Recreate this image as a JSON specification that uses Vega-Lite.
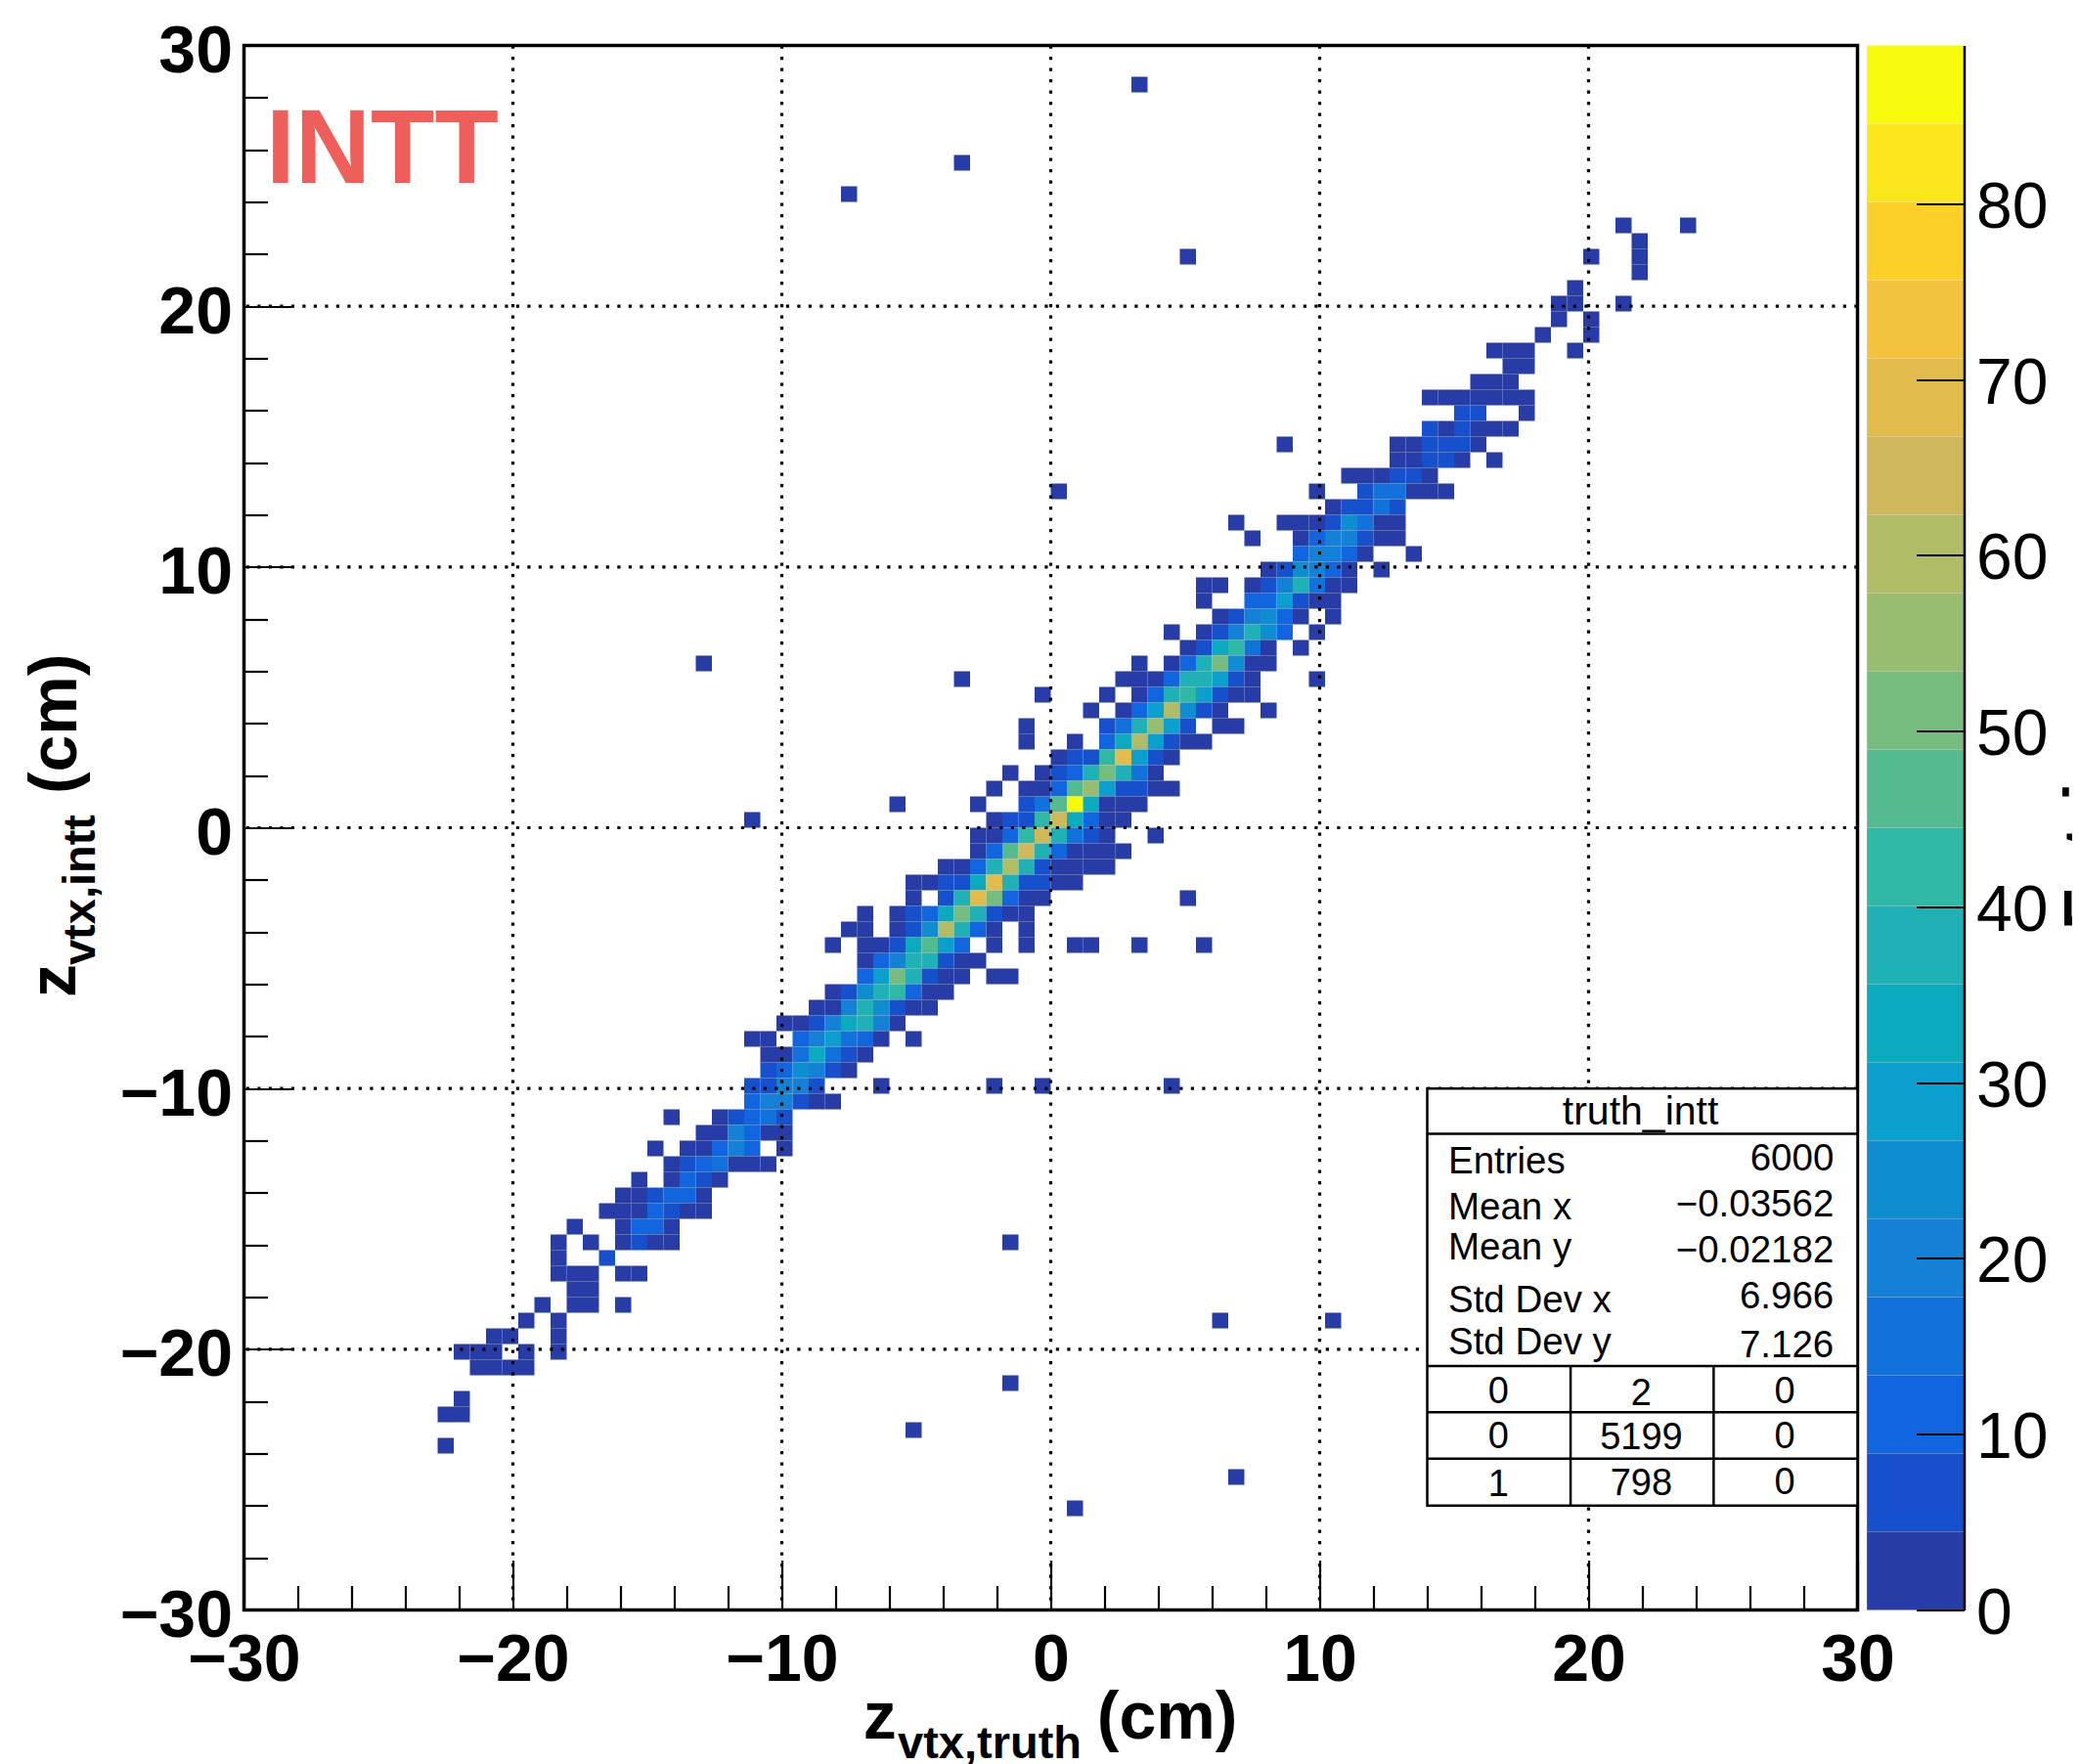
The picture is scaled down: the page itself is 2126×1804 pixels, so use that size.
{"$schema":"https://vega.github.io/schema/vega-lite/v6.json","width":1650,"height":1600,"autosize":{"type":"none"},"padding":{"left":249.5,"top":46.5,"right":226.5,"bottom":157.5},"background":"white","config":{"view":{"stroke":"black","strokeWidth":3.5},"text":{"font":"Liberation Sans"},"style":{"st":{"font":"Liberation Sans","fontSize":38.5,"align":"left","baseline":"alphabetic","fill":"black"},"sr":{"font":"Liberation Sans","fontSize":38.5,"align":"right","baseline":"alphabetic","fill":"black"},"sc":{"font":"Liberation Sans","fontSize":38,"align":"center","baseline":"alphabetic","fill":"black"},"tb":{"font":"Liberation Sans","fontWeight":"bold","fontSize":68,"align":"left","baseline":"alphabetic","fill":"black"},"ts":{"font":"Liberation Sans","fontWeight":"bold","fontSize":47,"align":"left","baseline":"alphabetic","fill":"black"},"br":{"color":"black","strokeWidth":2.5}}},"resolve":{"scale":{"y":"independent"}},"layer":[{"layer":[
{"data":{"values":[
{"x":3.3,"y":28.5,"n":2},{"x":-3.3,"y":25.5,"n":2},{"x":-7.5,"y":24.3,"n":2},{"x":21.3,"y":23.1,"n":2},{"x":23.7,"y":23.1,"n":2},{"x":21.9,"y":22.5,"n":2},{"x":5.1,"y":21.9,"n":2},{"x":20.1,"y":21.9,"n":2},{"x":21.9,"y":21.9,"n":2},{"x":21.9,"y":21.3,"n":2},{"x":19.5,"y":20.7,"n":2},{"x":18.9,"y":20.1,"n":2},{"x":19.5,"y":20.1,"n":2},{"x":21.3,"y":20.1,"n":2},{"x":18.9,"y":19.5,"n":2},{"x":20.1,"y":19.5,"n":2},{"x":18.3,"y":18.9,"n":2},{"x":20.1,"y":18.9,"n":2},{"x":16.5,"y":18.3,"n":2},{"x":17.1,"y":18.3,"n":2},{"x":17.7,"y":18.3,"n":2},{"x":19.5,"y":18.3,"n":2},{"x":17.1,"y":17.7,"n":2},{"x":17.7,"y":17.7,"n":2},{"x":15.9,"y":17.1,"n":2},{"x":16.5,"y":17.1,"n":2},{"x":17.1,"y":17.1,"n":2},
{"x":14.1,"y":16.5,"n":2},{"x":14.7,"y":16.5,"n":2},{"x":15.3,"y":16.5,"n":2},{"x":15.9,"y":16.5,"n":2},{"x":16.5,"y":16.5,"n":2},{"x":17.1,"y":16.5,"n":2},{"x":17.7,"y":16.5,"n":2},{"x":15.3,"y":15.9,"n":6},{"x":15.9,"y":15.9,"n":6},{"x":17.7,"y":15.9,"n":2},{"x":14.1,"y":15.3,"n":6},{"x":14.7,"y":15.3,"n":2},{"x":15.3,"y":15.3,"n":6},{"x":15.9,"y":15.3,"n":2},{"x":16.5,"y":15.3,"n":2},{"x":17.1,"y":15.3,"n":2},
{"x":8.7,"y":14.7,"n":2},{"x":12.9,"y":14.7,"n":2},{"x":13.5,"y":14.7,"n":2},{"x":14.1,"y":14.7,"n":6},{"x":14.7,"y":14.7,"n":6},{"x":15.3,"y":14.7,"n":6},{"x":15.9,"y":14.7,"n":2},{"x":12.9,"y":14.1,"n":2},{"x":13.5,"y":14.1,"n":2},{"x":14.1,"y":14.1,"n":6},{"x":14.7,"y":14.1,"n":6},{"x":15.3,"y":14.1,"n":2},{"x":16.5,"y":14.1,"n":2},
{"x":11.1,"y":13.5,"n":2},{"x":11.7,"y":13.5,"n":2},{"x":12.3,"y":13.5,"n":2},{"x":12.9,"y":13.5,"n":6},{"x":13.5,"y":13.5,"n":6},{"x":14.1,"y":13.5,"n":2},{"x":0.3,"y":12.9,"n":2},{"x":9.9,"y":12.9,"n":2},{"x":11.7,"y":12.9,"n":6},{"x":12.3,"y":12.9,"n":15},{"x":12.9,"y":12.9,"n":15},{"x":13.5,"y":12.9,"n":2},{"x":14.1,"y":12.9,"n":2},{"x":14.7,"y":12.9,"n":2},
{"x":10.5,"y":12.3,"n":2},{"x":11.1,"y":12.3,"n":6},{"x":11.7,"y":12.3,"n":6},{"x":12.3,"y":12.3,"n":15},{"x":12.9,"y":12.3,"n":6},{"x":6.9,"y":11.7,"n":2},{"x":8.7,"y":11.7,"n":2},{"x":9.3,"y":11.7,"n":2},{"x":9.9,"y":11.7,"n":2},{"x":10.5,"y":11.7,"n":6},{"x":11.1,"y":11.7,"n":24},{"x":11.7,"y":11.7,"n":15},{"x":12.3,"y":11.7,"n":2},{"x":12.9,"y":11.7,"n":2},
{"x":7.5,"y":11.1,"n":2},{"x":9.3,"y":11.1,"n":2},{"x":9.9,"y":11.1,"n":11},{"x":10.5,"y":11.1,"n":20},{"x":11.1,"y":11.1,"n":20},{"x":11.7,"y":11.1,"n":6},{"x":12.3,"y":11.1,"n":2},{"x":12.9,"y":11.1,"n":2},{"x":9.3,"y":10.5,"n":11},{"x":9.9,"y":10.5,"n":20},{"x":10.5,"y":10.5,"n":20},{"x":11.1,"y":10.5,"n":11},{"x":11.7,"y":10.5,"n":2},{"x":13.5,"y":10.5,"n":2},
{"x":8.1,"y":9.9,"n":2},{"x":8.7,"y":9.9,"n":6},{"x":9.3,"y":9.9,"n":24},{"x":9.9,"y":9.9,"n":20},{"x":10.5,"y":9.9,"n":11},{"x":11.1,"y":9.9,"n":2},{"x":12.3,"y":9.9,"n":2},{"x":5.7,"y":9.3,"n":2},{"x":6.3,"y":9.3,"n":2},{"x":7.5,"y":9.3,"n":2},{"x":8.1,"y":9.3,"n":6},{"x":8.7,"y":9.3,"n":20},{"x":9.3,"y":9.3,"n":38},{"x":9.9,"y":9.3,"n":15},{"x":10.5,"y":9.3,"n":2},{"x":11.1,"y":9.3,"n":2},
{"x":5.7,"y":8.7,"n":2},{"x":7.5,"y":8.7,"n":11},{"x":8.1,"y":8.7,"n":11},{"x":8.7,"y":8.7,"n":29},{"x":9.3,"y":8.7,"n":6},{"x":9.9,"y":8.7,"n":2},{"x":10.5,"y":8.7,"n":2},{"x":6.3,"y":8.1,"n":2},{"x":6.9,"y":8.1,"n":6},{"x":7.5,"y":8.1,"n":20},{"x":8.1,"y":8.1,"n":24},{"x":8.7,"y":8.1,"n":11},{"x":9.3,"y":8.1,"n":2},{"x":10.5,"y":8.1,"n":2},
{"x":4.5,"y":7.5,"n":2},{"x":5.7,"y":7.5,"n":2},{"x":6.3,"y":7.5,"n":6},{"x":6.9,"y":7.5,"n":20},{"x":7.5,"y":7.5,"n":38},{"x":8.1,"y":7.5,"n":24},{"x":8.7,"y":7.5,"n":11},{"x":9.9,"y":7.5,"n":2},{"x":5.1,"y":6.9,"n":2},{"x":5.7,"y":6.9,"n":6},{"x":6.3,"y":6.9,"n":33},{"x":6.9,"y":6.9,"n":42},{"x":7.5,"y":6.9,"n":15},{"x":8.1,"y":6.9,"n":2},{"x":9.3,"y":6.9,"n":2},
{"x":-12.9,"y":6.3,"n":2},{"x":3.3,"y":6.3,"n":2},{"x":4.5,"y":6.3,"n":2},{"x":5.1,"y":6.3,"n":11},{"x":5.7,"y":6.3,"n":38},{"x":6.3,"y":6.3,"n":51},{"x":6.9,"y":6.3,"n":24},{"x":7.5,"y":6.3,"n":2},{"x":8.1,"y":6.3,"n":2},{"x":-3.3,"y":5.7,"n":2},{"x":2.7,"y":5.7,"n":2},{"x":3.3,"y":5.7,"n":2},{"x":3.9,"y":5.7,"n":2},{"x":4.5,"y":5.7,"n":11},{"x":5.1,"y":5.7,"n":38},{"x":5.7,"y":5.7,"n":38},{"x":6.3,"y":5.7,"n":29},{"x":6.9,"y":5.7,"n":6},{"x":7.5,"y":5.7,"n":2},{"x":9.9,"y":5.7,"n":2},
{"x":-0.3,"y":5.1,"n":2},{"x":2.1,"y":5.1,"n":2},{"x":3.3,"y":5.1,"n":2},{"x":3.9,"y":5.1,"n":11},{"x":4.5,"y":5.1,"n":38},{"x":5.1,"y":5.1,"n":42},{"x":5.7,"y":5.1,"n":29},{"x":6.3,"y":5.1,"n":6},{"x":6.9,"y":5.1,"n":2},{"x":7.5,"y":5.1,"n":2},{"x":1.5,"y":4.5,"n":2},{"x":2.7,"y":4.5,"n":2},{"x":3.3,"y":4.5,"n":11},{"x":3.9,"y":4.5,"n":29},{"x":4.5,"y":4.5,"n":60},{"x":5.1,"y":4.5,"n":24},{"x":5.7,"y":4.5,"n":6},{"x":6.3,"y":4.5,"n":2},{"x":8.1,"y":4.5,"n":2},
{"x":-0.9,"y":3.9,"n":2},{"x":2.1,"y":3.9,"n":6},{"x":2.7,"y":3.9,"n":15},{"x":3.3,"y":3.9,"n":38},{"x":3.9,"y":3.9,"n":55},{"x":4.5,"y":3.9,"n":29},{"x":5.1,"y":3.9,"n":6},{"x":6.3,"y":3.9,"n":2},{"x":6.9,"y":3.9,"n":2},{"x":-0.9,"y":3.3,"n":2},{"x":0.9,"y":3.3,"n":2},{"x":2.1,"y":3.3,"n":11},{"x":2.7,"y":3.3,"n":33},{"x":3.3,"y":3.3,"n":60},{"x":3.9,"y":3.3,"n":29},{"x":4.5,"y":3.3,"n":6},{"x":5.1,"y":3.3,"n":2},{"x":5.7,"y":3.3,"n":2},
{"x":0.3,"y":2.7,"n":2},{"x":0.9,"y":2.7,"n":6},{"x":1.5,"y":2.7,"n":6},{"x":2.1,"y":2.7,"n":42},{"x":2.7,"y":2.7,"n":69},{"x":3.3,"y":2.7,"n":29},{"x":3.9,"y":2.7,"n":6},{"x":4.5,"y":2.7,"n":2},{"x":-1.5,"y":2.1,"n":2},{"x":-0.3,"y":2.1,"n":2},{"x":0.3,"y":2.1,"n":6},{"x":0.9,"y":2.1,"n":11},{"x":1.5,"y":2.1,"n":38},{"x":2.1,"y":2.1,"n":51},{"x":2.7,"y":2.1,"n":38},{"x":3.3,"y":2.1,"n":15},{"x":3.9,"y":2.1,"n":2},
{"x":-2.1,"y":1.5,"n":2},{"x":-0.9,"y":1.5,"n":2},{"x":-0.3,"y":1.5,"n":2},{"x":0.3,"y":1.5,"n":11},{"x":0.9,"y":1.5,"n":47},{"x":1.5,"y":1.5,"n":55},{"x":2.1,"y":1.5,"n":29},{"x":2.7,"y":1.5,"n":6},{"x":3.3,"y":1.5,"n":6},{"x":3.9,"y":1.5,"n":2},{"x":4.5,"y":1.5,"n":2},{"x":-5.7,"y":0.9,"n":2},{"x":-2.7,"y":0.9,"n":2},{"x":-0.9,"y":0.9,"n":6},{"x":-0.3,"y":0.9,"n":15},{"x":0.3,"y":0.9,"n":47},{"x":0.9,"y":0.9,"n":89},{"x":1.5,"y":0.9,"n":33},{"x":2.1,"y":0.9,"n":2},{"x":2.7,"y":0.9,"n":2},{"x":3.3,"y":0.9,"n":2},
{"x":-11.1,"y":0.3,"n":2},{"x":-2.1,"y":0.3,"n":2},{"x":-1.5,"y":0.3,"n":6},{"x":-0.9,"y":0.3,"n":6},{"x":-0.3,"y":0.3,"n":42},{"x":0.3,"y":0.3,"n":65},{"x":0.9,"y":0.3,"n":33},{"x":1.5,"y":0.3,"n":11},{"x":2.1,"y":0.3,"n":2},{"x":2.7,"y":0.3,"n":2},{"x":-2.7,"y":-0.3,"n":2},{"x":-2.1,"y":-0.3,"n":2},{"x":-1.5,"y":-0.3,"n":11},{"x":-0.9,"y":-0.3,"n":42},{"x":-0.3,"y":-0.3,"n":65},{"x":0.3,"y":-0.3,"n":38},{"x":0.9,"y":-0.3,"n":15},{"x":1.5,"y":-0.3,"n":6},{"x":2.1,"y":-0.3,"n":2},{"x":3.9,"y":-0.3,"n":2},
{"x":-2.7,"y":-0.9,"n":2},{"x":-2.1,"y":-0.9,"n":11},{"x":-1.5,"y":-0.9,"n":47},{"x":-0.9,"y":-0.9,"n":65},{"x":-0.3,"y":-0.9,"n":38},{"x":0.3,"y":-0.9,"n":11},{"x":0.9,"y":-0.9,"n":2},{"x":1.5,"y":-0.9,"n":2},{"x":2.1,"y":-0.9,"n":2},{"x":2.7,"y":-0.9,"n":2},{"x":-3.9,"y":-1.5,"n":2},{"x":-3.3,"y":-1.5,"n":2},{"x":-2.7,"y":-1.5,"n":11},{"x":-2.1,"y":-1.5,"n":38},{"x":-1.5,"y":-1.5,"n":60},{"x":-0.9,"y":-1.5,"n":38},{"x":-0.3,"y":-1.5,"n":6},{"x":0.3,"y":-1.5,"n":2},{"x":0.9,"y":-1.5,"n":2},{"x":1.5,"y":-1.5,"n":2},{"x":2.1,"y":-1.5,"n":2},
{"x":-5.1,"y":-2.1,"n":2},{"x":-4.5,"y":-2.1,"n":2},{"x":-3.9,"y":-2.1,"n":6},{"x":-3.3,"y":-2.1,"n":6},{"x":-2.7,"y":-2.1,"n":33},{"x":-2.1,"y":-2.1,"n":69},{"x":-1.5,"y":-2.1,"n":38},{"x":-0.9,"y":-2.1,"n":6},{"x":-0.3,"y":-2.1,"n":6},{"x":0.3,"y":-2.1,"n":2},{"x":0.9,"y":-2.1,"n":2},{"x":-5.1,"y":-2.7,"n":2},{"x":-3.9,"y":-2.7,"n":6},{"x":-3.3,"y":-2.7,"n":38},{"x":-2.7,"y":-2.7,"n":69},{"x":-2.1,"y":-2.7,"n":51},{"x":-1.5,"y":-2.7,"n":11},{"x":-0.9,"y":-2.7,"n":2},{"x":-0.3,"y":-2.7,"n":2},{"x":5.1,"y":-2.7,"n":2},
{"x":-6.9,"y":-3.3,"n":2},{"x":-5.7,"y":-3.3,"n":2},{"x":-5.1,"y":-3.3,"n":6},{"x":-4.5,"y":-3.3,"n":11},{"x":-3.9,"y":-3.3,"n":33},{"x":-3.3,"y":-3.3,"n":51},{"x":-2.7,"y":-3.3,"n":38},{"x":-2.1,"y":-3.3,"n":6},{"x":-1.5,"y":-3.3,"n":2},{"x":-0.9,"y":-3.3,"n":2},{"x":-7.5,"y":-3.9,"n":2},{"x":-6.9,"y":-3.9,"n":2},{"x":-5.7,"y":-3.9,"n":2},{"x":-5.1,"y":-3.9,"n":6},{"x":-4.5,"y":-3.9,"n":24},{"x":-3.9,"y":-3.9,"n":60},{"x":-3.3,"y":-3.9,"n":38},{"x":-2.7,"y":-3.9,"n":11},{"x":-2.1,"y":-3.9,"n":2},{"x":-0.9,"y":-3.9,"n":2},
{"x":-8.1,"y":-4.5,"n":2},{"x":-6.9,"y":-4.5,"n":2},{"x":-6.3,"y":-4.5,"n":2},{"x":-5.7,"y":-4.5,"n":6},{"x":-5.1,"y":-4.5,"n":33},{"x":-4.5,"y":-4.5,"n":47},{"x":-3.9,"y":-4.5,"n":29},{"x":-3.3,"y":-4.5,"n":11},{"x":-2.1,"y":-4.5,"n":2},{"x":-0.9,"y":-4.5,"n":2},{"x":0.9,"y":-4.5,"n":2},{"x":1.5,"y":-4.5,"n":2},{"x":3.3,"y":-4.5,"n":2},{"x":5.7,"y":-4.5,"n":2},
{"x":-6.9,"y":-5.1,"n":2},{"x":-6.3,"y":-5.1,"n":11},{"x":-5.7,"y":-5.1,"n":20},{"x":-5.1,"y":-5.1,"n":38},{"x":-4.5,"y":-5.1,"n":38},{"x":-3.9,"y":-5.1,"n":6},{"x":-3.3,"y":-5.1,"n":2},{"x":-2.7,"y":-5.1,"n":2},{"x":-6.9,"y":-5.7,"n":11},{"x":-6.3,"y":-5.7,"n":29},{"x":-5.7,"y":-5.7,"n":51},{"x":-5.1,"y":-5.7,"n":38},{"x":-4.5,"y":-5.7,"n":6},{"x":-3.9,"y":-5.7,"n":2},{"x":-3.3,"y":-5.7,"n":2},{"x":-2.1,"y":-5.7,"n":2},{"x":-1.5,"y":-5.7,"n":2},
{"x":-8.1,"y":-6.3,"n":2},{"x":-7.5,"y":-6.3,"n":6},{"x":-6.9,"y":-6.3,"n":24},{"x":-6.3,"y":-6.3,"n":38},{"x":-5.7,"y":-6.3,"n":42},{"x":-5.1,"y":-6.3,"n":11},{"x":-4.5,"y":-6.3,"n":2},{"x":-3.9,"y":-6.3,"n":2},{"x":-8.7,"y":-6.9,"n":2},{"x":-8.1,"y":-6.9,"n":2},{"x":-7.5,"y":-6.9,"n":20},{"x":-6.9,"y":-6.9,"n":38},{"x":-6.3,"y":-6.9,"n":24},{"x":-5.7,"y":-6.9,"n":6},{"x":-5.1,"y":-6.9,"n":2},{"x":-4.5,"y":-6.9,"n":2},
{"x":-9.9,"y":-7.5,"n":2},{"x":-9.3,"y":-7.5,"n":2},{"x":-8.7,"y":-7.5,"n":6},{"x":-8.1,"y":-7.5,"n":20},{"x":-7.5,"y":-7.5,"n":33},{"x":-6.9,"y":-7.5,"n":38},{"x":-6.3,"y":-7.5,"n":20},{"x":-5.7,"y":-7.5,"n":2},{"x":-11.1,"y":-8.1,"n":2},{"x":-10.5,"y":-8.1,"n":2},{"x":-9.3,"y":-8.1,"n":11},{"x":-8.7,"y":-8.1,"n":20},{"x":-8.1,"y":-8.1,"n":29},{"x":-7.5,"y":-8.1,"n":15},{"x":-6.9,"y":-8.1,"n":11},{"x":-6.3,"y":-8.1,"n":2},{"x":-5.1,"y":-8.1,"n":2},
{"x":-10.5,"y":-8.7,"n":2},{"x":-9.9,"y":-8.7,"n":2},{"x":-9.3,"y":-8.7,"n":15},{"x":-8.7,"y":-8.7,"n":33},{"x":-8.1,"y":-8.7,"n":15},{"x":-7.5,"y":-8.7,"n":6},{"x":-6.9,"y":-8.7,"n":2},{"x":-10.5,"y":-9.3,"n":6},{"x":-9.9,"y":-9.3,"n":11},{"x":-9.3,"y":-9.3,"n":24},{"x":-8.7,"y":-9.3,"n":20},{"x":-8.1,"y":-9.3,"n":6},{"x":-7.5,"y":-9.3,"n":2},
{"x":-11.1,"y":-9.9,"n":6},{"x":-10.5,"y":-9.9,"n":6},{"x":-9.9,"y":-9.9,"n":20},{"x":-9.3,"y":-9.9,"n":20},{"x":-8.7,"y":-9.9,"n":6},{"x":-6.3,"y":-9.9,"n":2},{"x":-2.1,"y":-9.9,"n":2},{"x":-0.3,"y":-9.9,"n":2},{"x":4.5,"y":-9.9,"n":2},{"x":-11.1,"y":-10.5,"n":11},{"x":-10.5,"y":-10.5,"n":20},{"x":-9.9,"y":-10.5,"n":20},{"x":-9.3,"y":-10.5,"n":6},{"x":-8.7,"y":-10.5,"n":2},{"x":-8.1,"y":-10.5,"n":2},
{"x":-14.1,"y":-11.1,"n":2},{"x":-12.3,"y":-11.1,"n":2},{"x":-11.7,"y":-11.1,"n":6},{"x":-11.1,"y":-11.1,"n":11},{"x":-10.5,"y":-11.1,"n":15},{"x":-9.9,"y":-11.1,"n":6},{"x":-12.9,"y":-11.7,"n":2},{"x":-12.3,"y":-11.7,"n":2},{"x":-11.7,"y":-11.7,"n":20},{"x":-11.1,"y":-11.7,"n":11},{"x":-10.5,"y":-11.7,"n":2},{"x":-9.9,"y":-11.7,"n":2},
{"x":-14.7,"y":-12.3,"n":2},{"x":-13.5,"y":-12.3,"n":2},{"x":-12.9,"y":-12.3,"n":2},{"x":-12.3,"y":-12.3,"n":11},{"x":-11.7,"y":-12.3,"n":20},{"x":-11.1,"y":-12.3,"n":11},{"x":-9.9,"y":-12.3,"n":2},{"x":-14.1,"y":-12.9,"n":2},{"x":-13.5,"y":-12.9,"n":6},{"x":-12.9,"y":-12.9,"n":11},{"x":-12.3,"y":-12.9,"n":15},{"x":-11.7,"y":-12.9,"n":2},{"x":-11.1,"y":-12.9,"n":2},{"x":-10.5,"y":-12.9,"n":2},
{"x":-15.3,"y":-13.5,"n":2},{"x":-14.1,"y":-13.5,"n":2},{"x":-13.5,"y":-13.5,"n":11},{"x":-12.9,"y":-13.5,"n":6},{"x":-12.3,"y":-13.5,"n":2},{"x":-15.9,"y":-14.1,"n":2},{"x":-15.3,"y":-14.1,"n":2},{"x":-14.7,"y":-14.1,"n":6},{"x":-14.1,"y":-14.1,"n":11},{"x":-13.5,"y":-14.1,"n":11},{"x":-12.9,"y":-14.1,"n":2},
{"x":-16.5,"y":-14.7,"n":2},{"x":-15.9,"y":-14.7,"n":2},{"x":-15.3,"y":-14.7,"n":2},{"x":-14.7,"y":-14.7,"n":11},{"x":-14.1,"y":-14.7,"n":6},{"x":-13.5,"y":-14.7,"n":2},{"x":-12.9,"y":-14.7,"n":2},{"x":-17.7,"y":-15.3,"n":2},{"x":-15.9,"y":-15.3,"n":2},{"x":-15.3,"y":-15.3,"n":11},{"x":-14.7,"y":-15.3,"n":11},{"x":-14.1,"y":-15.3,"n":2},
{"x":-18.3,"y":-15.9,"n":2},{"x":-17.1,"y":-15.9,"n":2},{"x":-15.9,"y":-15.9,"n":2},{"x":-15.3,"y":-15.9,"n":6},{"x":-14.7,"y":-15.9,"n":2},{"x":-14.1,"y":-15.9,"n":2},{"x":-1.5,"y":-15.9,"n":2},{"x":-18.3,"y":-16.5,"n":2},{"x":-16.5,"y":-16.5,"n":6},
{"x":-18.3,"y":-17.1,"n":2},{"x":-17.7,"y":-17.1,"n":2},{"x":-17.1,"y":-17.1,"n":2},{"x":-15.9,"y":-17.1,"n":2},{"x":-15.3,"y":-17.1,"n":2},{"x":-17.7,"y":-17.7,"n":2},{"x":-17.1,"y":-17.7,"n":2},{"x":-18.9,"y":-18.3,"n":2},{"x":-17.7,"y":-18.3,"n":2},{"x":-17.1,"y":-18.3,"n":2},{"x":-15.9,"y":-18.3,"n":2},
{"x":-19.5,"y":-18.9,"n":2},{"x":-18.3,"y":-18.9,"n":2},{"x":6.3,"y":-18.9,"n":2},{"x":10.5,"y":-18.9,"n":2},{"x":-20.7,"y":-19.5,"n":2},{"x":-20.1,"y":-19.5,"n":2},{"x":-18.3,"y":-19.5,"n":2},{"x":-21.9,"y":-20.1,"n":2},{"x":-21.3,"y":-20.1,"n":2},{"x":-20.7,"y":-20.1,"n":2},{"x":-19.5,"y":-20.1,"n":2},{"x":-18.3,"y":-20.1,"n":2},
{"x":-21.3,"y":-20.7,"n":2},{"x":-20.7,"y":-20.7,"n":2},{"x":-20.1,"y":-20.7,"n":2},{"x":-19.5,"y":-20.7,"n":2},{"x":-1.5,"y":-21.3,"n":2},{"x":-21.9,"y":-21.9,"n":2},{"x":-22.5,"y":-22.5,"n":2},{"x":-21.9,"y":-22.5,"n":2},{"x":-5.1,"y":-23.1,"n":2},{"x":-22.5,"y":-23.7,"n":2},{"x":6.9,"y":-24.9,"n":2},{"x":0.9,"y":-26.1,"n":2}
]},"mark":{"type":"rect","width":16.5,"height":16},"encoding":{
"x":{"field":"x","type":"quantitative","scale":{"domain":[-30,30],"nice":false,"zero":false},"title":null,"axis":{"values":[-30,-28,-26,-24,-22,-20,-18,-16,-14,-12,-10,-8,-6,-4,-2,0,2,4,6,8,10,12,14,16,18,20,22,24,26,28,30],"zindex":1,"grid":false,"domain":false,"tickColor":"black","tickWidth":2.2,"tickSize":{"condition":{"test":"datum.value % 10 === 0","value":-51},"value":-25},"labelExpr":"datum.value % 10 === 0 ? format(datum.value,'d') : ''","labelFont":"Liberation Sans","labelFontWeight":"bold","labelFontSize":68,"labelColor":"black","labelBaseline":"alphabetic","labelPadding":123,"labelOverlap":false,"labelBound":false,"labelFlush":false}},
"y":{"field":"y","type":"quantitative","scale":{"domain":[-30,30],"nice":false,"zero":false},"title":null,"axis":{"values":[-30,-28,-26,-24,-22,-20,-18,-16,-14,-12,-10,-8,-6,-4,-2,0,2,4,6,8,10,12,14,16,18,20,22,24,26,28,30],"zindex":1,"grid":false,"domain":false,"tickColor":"black","tickWidth":2.2,"tickSize":{"condition":{"test":"datum.value % 10 === 0","value":-49},"value":-24},"labelExpr":"datum.value % 10 === 0 ? format(datum.value,'d') : ''","labelFont":"Liberation Sans","labelFontWeight":"bold","labelFontSize":68,"labelColor":"black","labelBaseline":"alphabetic","labelAlign":"right","labelOffset":27,"labelPadding":61,"labelOverlap":false,"labelBound":false,"labelFlush":false}},
"color":{"field":"n","type":"quantitative","legend":null,"scale":{"type":"quantize","domain":[0,89],"nice":false,"range":["#273ca6","#1650cc","#1165df","#1272dc","#1480d6","#0e8dd1","#0a9fcc","#0baabf","#1fb1b5","#2eb8a5","#53bb8f","#76bc7f","#98bc70","#b2bc66","#cfb75c","#e1bc4d","#f3c23e","#fdd029","#fbe51c","#f8fa0d"]}}}},
{"data":{"values":[{"v":-20},{"v":-10},{"v":0},{"v":10},{"v":20}]},"mark":{"type":"rule","color":"black","strokeWidth":3.2,"strokeDash":[3.2,8.3]},"encoding":{"x":{"field":"v","type":"quantitative"}}},
{"data":{"values":[{"v":-20},{"v":-10},{"v":0},{"v":10},{"v":20}]},"mark":{"type":"rule","color":"black","strokeWidth":3.2,"strokeDash":[3.2,8.3]},"encoding":{"y":{"field":"v","type":"quantitative"}}},
{"data":{"values":[{"a":1}]},"layer":[
{"mark":{"type":"rect","fill":"white","stroke":"black","strokeWidth":2.5},"encoding":{"x":{"datum":14},"x2":{"datum":30},"y":{"datum":-10},"y2":{"datum":-26}}},
{"mark":{"type":"rule","style":"br"},"encoding":{"x":{"datum":14},"x2":{"datum":30},"y":{"datum":-11.74}}},
{"mark":{"type":"rule","style":"br"},"encoding":{"x":{"datum":14},"x2":{"datum":30},"y":{"datum":-20.64}}},
{"mark":{"type":"rule","style":"br"},"encoding":{"x":{"datum":14},"x2":{"datum":30},"y":{"datum":-22.42}}},
{"mark":{"type":"rule","style":"br"},"encoding":{"x":{"datum":14},"x2":{"datum":30},"y":{"datum":-24.2}}},
{"mark":{"type":"rule","style":"br"},"encoding":{"x":{"datum":19.33},"y":{"datum":-20.64},"y2":{"datum":-26}}},
{"mark":{"type":"rule","style":"br"},"encoding":{"x":{"datum":24.65},"y":{"datum":-20.64},"y2":{"datum":-26}}},
{"mark":{"type":"text","style":"sc","fontSize":41},"encoding":{"x":{"datum":21.93},"y":{"datum":-11.39},"text":{"value":"truth_intt"}}},
{"mark":{"type":"text","style":"st"},"encoding":{"x":{"datum":14.78},"y":{"datum":-13.25},"text":{"value":"Entries"}}},
{"mark":{"type":"text","style":"sr"},"encoding":{"x":{"datum":29.12},"y":{"datum":-13.15},"text":{"value":"6000"}}},
{"mark":{"type":"text","style":"st"},"encoding":{"x":{"datum":14.78},"y":{"datum":-15.03},"text":{"value":"Mean x"}}},
{"mark":{"type":"text","style":"sr"},"encoding":{"x":{"datum":29.12},"y":{"datum":-14.89},"text":{"value":"−0.03562"}}},
{"mark":{"type":"text","style":"st"},"encoding":{"x":{"datum":14.78},"y":{"datum":-16.55},"text":{"value":"Mean y"}}},
{"mark":{"type":"text","style":"sr"},"encoding":{"x":{"datum":29.12},"y":{"datum":-16.67},"text":{"value":"−0.02182"}}},
{"mark":{"type":"text","style":"st"},"encoding":{"x":{"datum":14.78},"y":{"datum":-18.57},"text":{"value":"Std Dev x"}}},
{"mark":{"type":"text","style":"sr"},"encoding":{"x":{"datum":29.12},"y":{"datum":-18.43},"text":{"value":"6.966"}}},
{"mark":{"type":"text","style":"st"},"encoding":{"x":{"datum":14.78},"y":{"datum":-20.19},"text":{"value":"Std Dev y"}}},
{"mark":{"type":"text","style":"sr"},"encoding":{"x":{"datum":29.12},"y":{"datum":-20.3},"text":{"value":"7.126"}}},
{"mark":{"type":"text","style":"sc"},"encoding":{"x":{"datum":16.65},"y":{"datum":-22.06},"text":{"value":"0"}}},
{"mark":{"type":"text","style":"sc"},"encoding":{"x":{"datum":21.96},"y":{"datum":-22.14},"text":{"value":"2"}}},
{"mark":{"type":"text","style":"sc"},"encoding":{"x":{"datum":27.29},"y":{"datum":-22.06},"text":{"value":"0"}}},
{"mark":{"type":"text","style":"sc"},"encoding":{"x":{"datum":16.65},"y":{"datum":-23.79},"text":{"value":"0"}}},
{"mark":{"type":"text","style":"sc"},"encoding":{"x":{"datum":21.96},"y":{"datum":-23.83},"text":{"value":"5199"}}},
{"mark":{"type":"text","style":"sc"},"encoding":{"x":{"datum":27.29},"y":{"datum":-23.79},"text":{"value":"0"}}},
{"mark":{"type":"text","style":"sc"},"encoding":{"x":{"datum":16.65},"y":{"datum":-25.63},"text":{"value":"1"}}},
{"mark":{"type":"text","style":"sc"},"encoding":{"x":{"datum":21.96},"y":{"datum":-25.6},"text":{"value":"798"}}},
{"mark":{"type":"text","style":"sc"},"encoding":{"x":{"datum":27.29},"y":{"datum":-25.57},"text":{"value":"0"}}},
{"mark":{"type":"text","font":"Liberation Sans","fontWeight":"bold","fontSize":107,"align":"left","baseline":"alphabetic","fill":"#ee5f5b"},"encoding":{"x":{"datum":-29.18},"y":{"datum":24.74},"text":{"value":"INTT"}}},
{"mark":{"type":"text","style":"tb"},"encoding":{"x":{"datum":-6.97},"y":{"datum":-34.93},"text":{"value":"z"}}},
{"mark":{"type":"text","style":"ts"},"encoding":{"x":{"datum":-5.69},"y":{"datum":-35.68},"text":{"value":"vtx,truth"}}},
{"mark":{"type":"text","style":"tb"},"encoding":{"x":{"datum":1.72},"y":{"datum":-34.93},"text":{"value":"(cm)"}}},
{"mark":{"type":"text","style":"tb","angle":270},"encoding":{"x":{"datum":-36.27},"y":{"datum":-6.51},"text":{"value":"z"}}},
{"mark":{"type":"text","style":"ts","angle":270},"encoding":{"x":{"datum":-35.56},"y":{"datum":-5.27},"text":{"value":"vtx,intt"}}},
{"mark":{"type":"text","style":"tb","angle":270},"encoding":{"x":{"datum":-36.24},"y":{"datum":1.29},"text":{"value":"(cm)"}}},
{"mark":{"type":"text","style":"tb","angle":270,"fontSize":66},"encoding":{"x":{"datum":39.38},"y":{"datum":-3.92},"text":{"value":"Entries"}}},
{"mark":{"type":"rect","fill":"white"},"encoding":{"x":{"datum":37.98},"x2":{"datum":38.3}}}
]}
]},
{"data":{"values":[{"lo":0,"hi":4.45,"mid":2.2},{"lo":4.45,"hi":8.9,"mid":6.7},{"lo":8.9,"hi":13.35,"mid":11.1},{"lo":13.35,"hi":17.8,"mid":15.6},{"lo":17.8,"hi":22.25,"mid":20},{"lo":22.25,"hi":26.7,"mid":24.5},{"lo":26.7,"hi":31.15,"mid":28.9},{"lo":31.15,"hi":35.6,"mid":33.4},{"lo":35.6,"hi":40.05,"mid":37.8},{"lo":40.05,"hi":44.5,"mid":42.3},{"lo":44.5,"hi":48.95,"mid":46.7},{"lo":48.95,"hi":53.4,"mid":51.2},{"lo":53.4,"hi":57.85,"mid":55.6},{"lo":57.85,"hi":62.3,"mid":60.1},{"lo":62.3,"hi":66.75,"mid":64.5},{"lo":66.75,"hi":71.2,"mid":69},{"lo":71.2,"hi":75.65,"mid":73.4},{"lo":75.65,"hi":80.1,"mid":77.9},{"lo":80.1,"hi":84.55,"mid":82.3},{"lo":84.55,"hi":89,"mid":86.8}]},"mark":{"type":"rect"},"encoding":{"x":{"datum":30.35},"x2":{"datum":33.96},"y":{"field":"lo","type":"quantitative","title":null,"scale":{"domain":[0,89],"nice":false,"zero":false},"axis":{"orient":"right","offset":109,"values":[0,10,20,30,40,50,60,70,80],"zindex":1,"grid":false,"domain":true,"domainColor":"black","domainWidth":2.5,"tickColor":"black","tickWidth":2.2,"tickSize":-49,"labelFont":"Liberation Sans","labelFontSize":66,"labelColor":"black","labelBaseline":"alphabetic","labelAlign":"left","labelOffset":24,"labelPadding":61,"labelOverlap":false,"labelBound":false,"labelFlush":false}},"y2":{"field":"hi"},"color":{"field":"mid","type":"quantitative","legend":null,"scale":{"type":"quantize","domain":[0,89],"nice":false,"range":["#273ca6","#1650cc","#1165df","#1272dc","#1480d6","#0e8dd1","#0a9fcc","#0baabf","#1fb1b5","#2eb8a5","#53bb8f","#76bc7f","#98bc70","#b2bc66","#cfb75c","#e1bc4d","#f3c23e","#fdd029","#fbe51c","#f8fa0d"]}}}}
]}
